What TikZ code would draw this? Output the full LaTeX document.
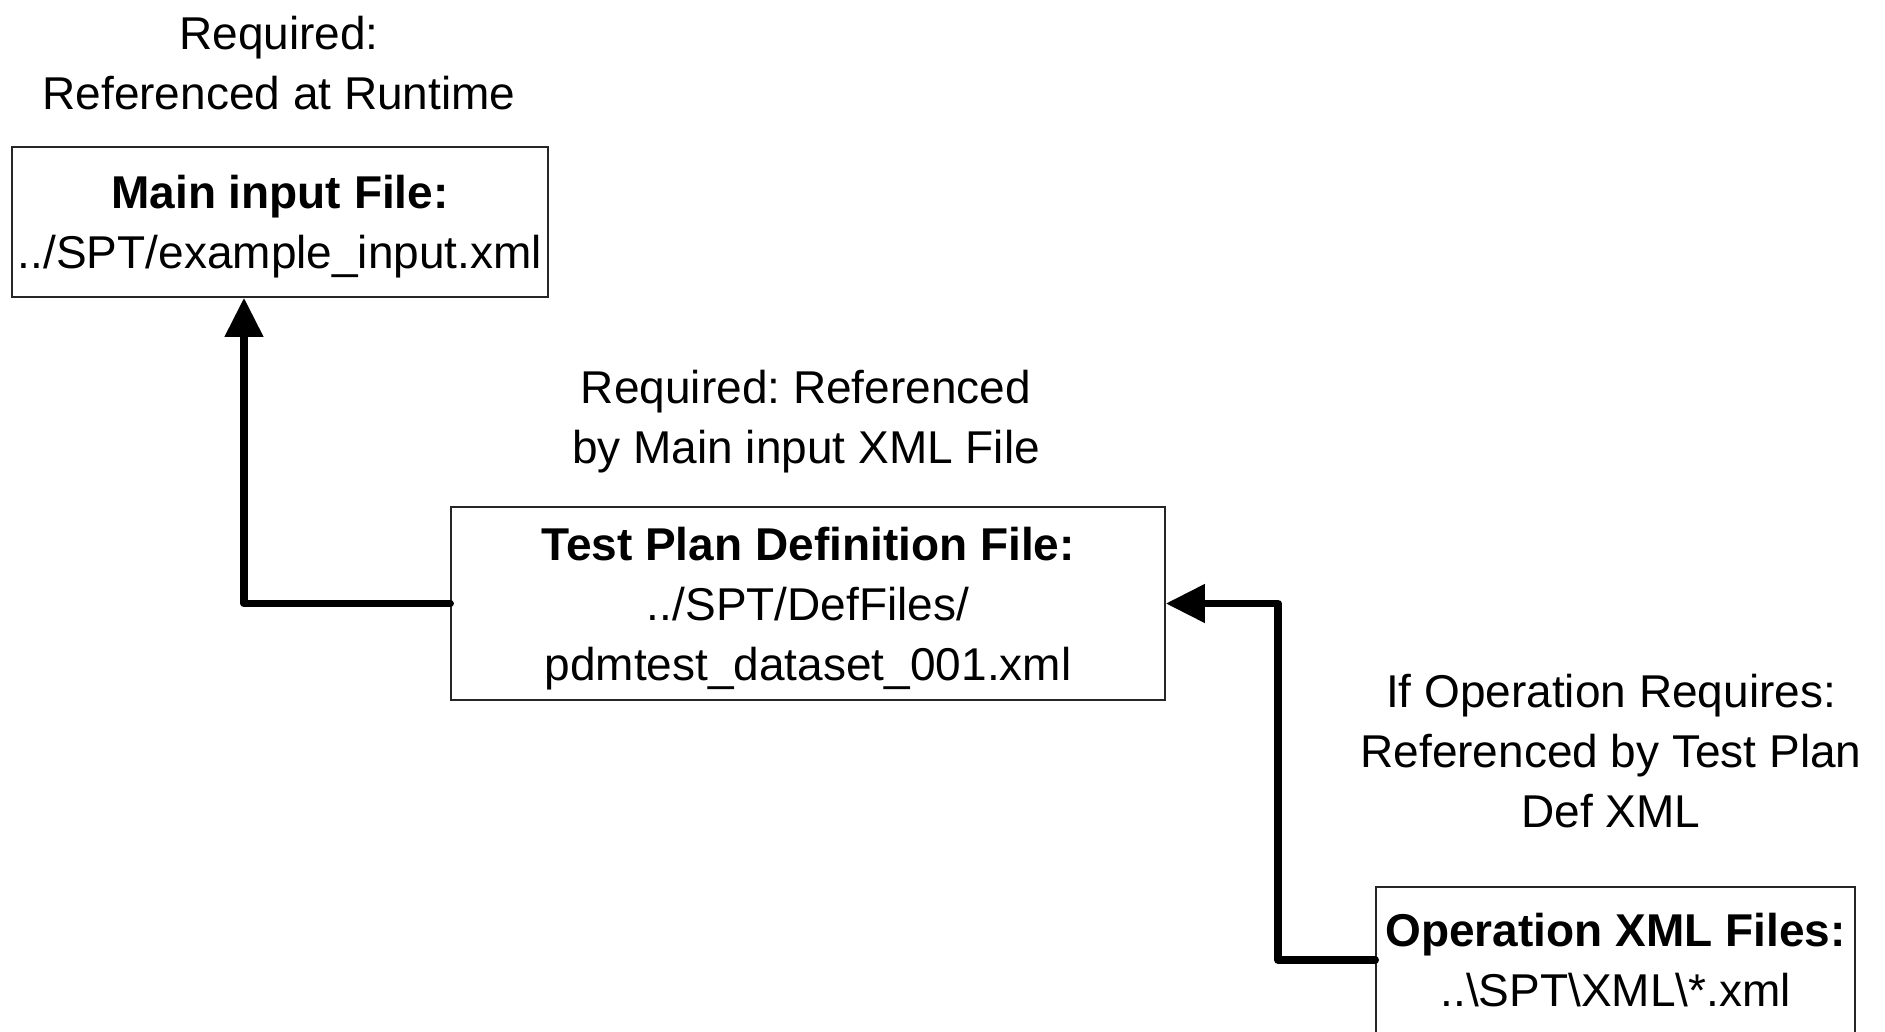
\documentclass[tikz,border=0pt]{standalone}
\usepackage{fontspec}
\setmainfont{Liberation Sans}
\usetikzlibrary{arrows.meta}
\frenchspacing
\begin{document}
\begin{tikzpicture}[x=1pt,y=-1pt,
  box/.style={draw=black!85,line width=1.6pt,fill=white,inner sep=0pt,align=center,font=\fontsize{46}{60}\selectfont},
  lbl/.style={inner sep=0pt,align=center,font=\fontsize{46}{60}\selectfont},
  conn/.style={line width=7.5pt,line join=round,line cap=round,-{Triangle[width=37pt,length=39pt]}}]
\useasboundingbox (0,0) rectangle (1885,1032);
\clip (0,0) rectangle (1885,1032);
\fill[white] (0,0) rectangle (1885,1032);
\node[lbl] (l1) at (279,63) {Required:\\Referenced at Runtime};
\node[lbl] (l2) at (806,422) {Required: Referenced\\by Main input XML File};
\node[lbl] (l3) at (1611,751) {If Operation Requires:\\Referenced by Test Plan\\Def XML};
\node[box,minimum width=536pt,minimum height=150pt,text depth=0pt] (main) at (280,222) {\textbf{Main input File:}\\../SPT/example\_input.xml};
\node[box,minimum width=714pt,minimum height=193pt,text depth=0pt] (tp) at (808,603.5) {\textbf{Test Plan Definition File:}\\../SPT/DefFiles/\\pdmtest\_dataset\_001.xml};
\node[box,minimum width=479pt,minimum height=146pt] (op) at (1615.5,960) {\textbf{Operation XML Files:}\\..\textbackslash SPT\textbackslash XML\textbackslash *.xml};
\coordinate (c1) at (244,603.5);
\coordinate (c2) at (1278,960);
\draw[conn] (tp.west) -- (c1) -- (c1 |- main.south);
\draw[conn] (op.west) -- (c2) |- (tp.east);
\end{tikzpicture}
\end{document}
